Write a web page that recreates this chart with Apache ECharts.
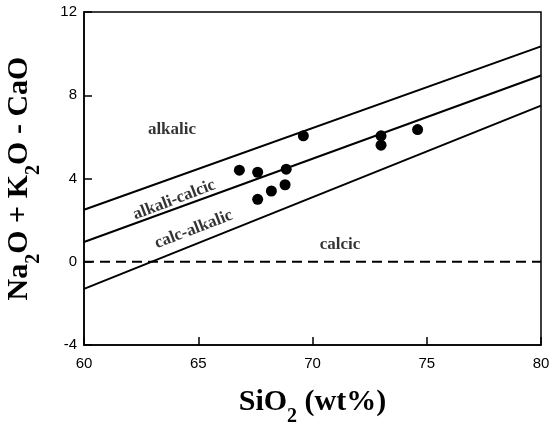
<!DOCTYPE html>
<html>
<head>
<meta charset="utf-8">
<script src="https://cdn.jsdelivr.net/npm/echarts@6/dist/echarts.min.js"></script>
<style>
  html, body { margin: 0; padding: 0; background: #fff; }
  #chart { width: 550px; height: 426px; }
</style>
</head>
<body>
<div id="chart"></div>
<script>
// Sample compositions: SiO2 (wt%) and modified alkali-lime index
const silica = [66.8, 67.6, 68.85, 67.6, 68.2, 68.8, 69.6, 73.0, 73.0, 74.6];
const mali   = [4.4, 4.3, 4.45, 3.0, 3.4, 3.7, 6.05, 6.05, 5.6, 6.35];

// Field boundaries, given at the ends of the SiO2 range
const boundarySilica       = [60, 80];
const alkalicBoundary      = [2.5, 10.35];
const alkaliCalcicBoundary = [0.95, 8.95];
const calcAlkalicBoundary  = [-1.3, 7.5];
const zeroLine             = [0, 0];

// Axis ranges and tick steps
const xRange = [60, 80], xStep = 5;
const yRange = [-4, 12], yStep = 4;

// Field names
const fieldNames = ['alkalic', 'alkali-calcic', 'calc-alkalic', 'calcic'];

// Where each field name sits (data coords) and its tilt
const fieldLabelAt = [[63.85, 6.33], [63.95, 2.97], [64.8, 1.55], [71.2, 0.8]];
const fieldLabelTilt = [0, 21, 21, 0];

const serif = '"Liberation Serif", "Times New Roman", serif';
const sans = '"Liberation Sans", Arial, sans-serif';

function pairs(xs, ys) { return xs.map((x, i) => [x, ys[i]]); }

function boundary(ys, dashed) {
  return {
    type: 'line',
    data: pairs(boundarySilica, ys),
    symbol: 'none',
    silent: true,
    lineStyle: { color: '#000', width: 2, type: dashed ? [10, 6] : 'solid' },
    z: 2
  };
}

const titleRich = {
  m: { fontFamily: serif, fontWeight: 'bold', fontSize: 30, color: '#000', lineHeight: 40, verticalAlign: 'top' },
  s: { fontFamily: serif, fontWeight: 'bold', fontSize: 20, color: '#000', lineHeight: 40, verticalAlign: 'bottom' }
};

const chart = echarts.init(document.getElementById('chart'), null, { renderer: 'canvas' });

chart.setOption({
  animation: false,
  backgroundColor: '#fff',
  grid: {
    left: 84, right: 9, top: 12, bottom: 81,
    outerBoundsMode: 'none', containLabel: false,
    show: true, borderColor: '#000', borderWidth: 1.5, backgroundColor: 'transparent'
  },
  xAxis: {
    type: 'value', min: xRange[0], max: xRange[1], interval: xStep,
    axisLine: { show: true, onZero: false, lineStyle: { color: '#000', width: 1.5 } },
    axisTick: { show: true, inside: true, length: 8, lineStyle: { color: '#000', width: 1.5 } },
    axisLabel: { margin: 11, fontFamily: sans, fontSize: 15, color: '#000' },
    splitLine: { show: false },
    name: '{m|SiO}{s|2}{m| (wt%)}',
    nameLocation: 'middle', nameGap: 42,
    nameTextStyle: { rich: titleRich }
  },
  yAxis: {
    type: 'value', min: yRange[0], max: yRange[1], interval: yStep,
    axisLine: { show: true, onZero: false, lineStyle: { color: '#000', width: 1.5 } },
    axisTick: { show: true, inside: true, length: 8, lineStyle: { color: '#000', width: 1.5 } },
    axisLabel: { margin: 7, fontFamily: sans, fontSize: 15, color: '#000' },
    splitLine: { show: false },
    name: '{m|Na}{s|2}{m|O + K}{s|2}{m|O - CaO}',
    nameLocation: 'middle', nameRotate: 90, nameGap: 40,
    nameTextStyle: { rich: titleRich }
  },
  series: [
    boundary(alkalicBoundary),
    boundary(alkaliCalcicBoundary),
    boundary(calcAlkalicBoundary),
    boundary(zeroLine, true),
    {
      type: 'scatter',
      data: pairs(silica, mali),
      symbol: 'circle', symbolSize: 11,
      itemStyle: { color: '#000', opacity: 1 },
      z: 5
    },
    {
      type: 'scatter',
      silent: true,
      symbolSize: 0,
      data: fieldNames.map((n, i) => ({
        value: fieldLabelAt[i],
        label: {
          show: true, position: 'inside', formatter: n, rotate: fieldLabelTilt[i],
          fontFamily: serif, fontWeight: 'bold', fontSize: 17, color: '#000'
        }
      })),
      z: 4
    }
  ]
});
</script>
</body>
</html>
